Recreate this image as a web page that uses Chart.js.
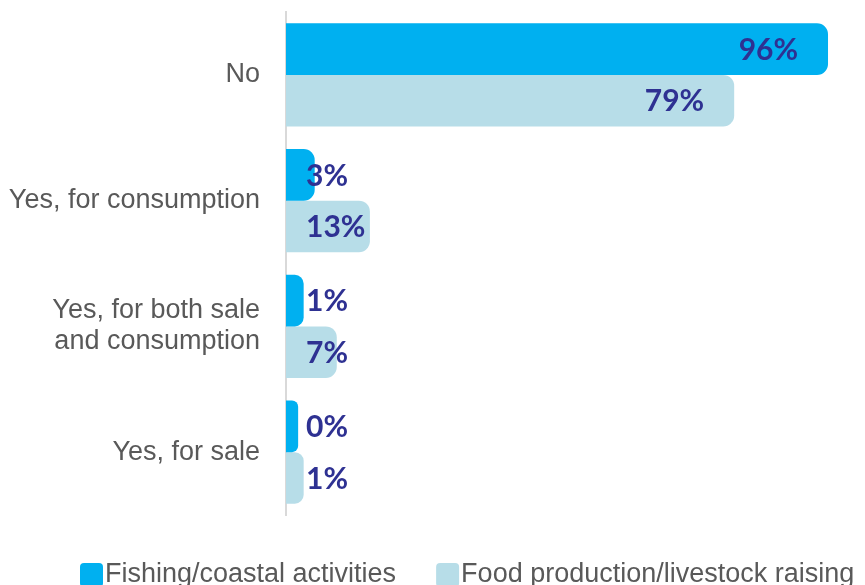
<!DOCTYPE html>
<html>
<head>
<meta charset="utf-8">
<script src="https://cdn.jsdelivr.net/npm/chart.js@4.4.1/dist/chart.umd.min.js"></script>
<style>
  html, body { margin: 0; padding: 0; background: #fff; overflow: hidden; }
  #wrap { width: 865px; height: 585px; }
</style>
</head>
<body>
<div id="wrap"><canvas id="chart"></canvas></div>
<script>
const categories = ['No', 'Yes, for consumption', ['Yes, for both sale', 'and consumption'], 'Yes, for sale'];
const seriesNames = ['Fishing/coastal activities', 'Food production/livestock raising'];
const fishingValues = [96, 3, 1, 0];
const foodValues = [79, 13, 7, 1];
const seriesColors = ['#00b0f0', '#b7dde8'];

const labelColor = '#2e3192';
const textColor = '#595959';
const axisStart = -2.2;

// labels sit inside the bar end, but never left of the axis + 20px
const valueLabels = {
    id: 'valueLabels',
    afterDatasetsDraw(chart) {
        const ctx = chart.ctx;
        const x0 = chart.scales.x.getPixelForValue(axisStart);
        ctx.save();
        ctx.font = 'bold 30px Lato, "Liberation Sans", sans-serif';
        ctx.fillStyle = labelColor;
        ctx.textBaseline = 'middle';
        ctx.textAlign = 'left';
        chart.data.datasets.forEach((ds, di) => {
            chart.getDatasetMeta(di).data.forEach((bar, i) => {
                const txt = ds.data[i] + '%';
                const w = ctx.measureText(txt).width;
                const x = Math.max(x0 + 20, bar.x - 30 - w);
                ctx.fillText(txt, x, bar.y + 1);
            });
        });
        ctx.restore();
    }
};

// legend with the box tight against the text, like the original
const tightLegend = {
    id: 'tightLegend',
    afterDraw(chart) {
        const ctx = chart.ctx;
        const y = chart.chartArea.bottom + 60;
        let x = 80;
        ctx.save();
        ctx.font = '27px "Liberation Sans", sans-serif';
        ctx.textBaseline = 'middle';
        ctx.textAlign = 'left';
        chart.data.datasets.forEach(ds => {
            ctx.fillStyle = ds.backgroundColor;
            ctx.beginPath();
            ctx.roundRect(x, y - 12, 23, 24, 4);
            ctx.fill();
            ctx.fillStyle = textColor;
            ctx.fillText(ds.label, x + 25, y);
            x += 25 + ctx.measureText(ds.label).width + 40;
        });
        ctx.restore();
    }
};

new Chart(document.getElementById('chart'), {
    type: 'bar',
    data: {
        labels: categories,
        datasets: [
            { label: seriesNames[0], data: fishingValues, backgroundColor: seriesColors[0] },
            { label: seriesNames[1], data: foodValues, backgroundColor: seriesColors[1] }
        ]
    },
    options: {
        indexAxis: 'y',
        responsive: true,
        maintainAspectRatio: false,
        animation: false,
        datasets: {
            bar: {
                base: axisStart,
                borderRadius: 11,
                borderSkipped: 'start',
                categoryPercentage: 0.82,
                barPercentage: 1.0
            }
        },
        layout: { padding: { top: 12, right: 0, left: 0, bottom: 70 } },
        scales: {
            x: {
                min: axisStart,
                max: 102.7,
                display: false
            },
            y: {
                grid: { display: false, drawTicks: false },
                border: { display: true, color: '#d9d9d9', width: 2 },
                ticks: {
                    color: textColor,
                    padding: 26,
                    font: { family: '"Liberation Sans", Arial, sans-serif', size: 27, lineHeight: 1.15 }
                },
                afterFit(scale) {
                    scale.width = 286;
                    scale.paddingTop = 0;
                    scale.paddingBottom = 0;
                }
            }
        },
        plugins: {
            legend: { display: false },
            tooltip: { enabled: false }
        }
    },
    plugins: [valueLabels, tightLegend]
});
</script>
</body>
</html>
